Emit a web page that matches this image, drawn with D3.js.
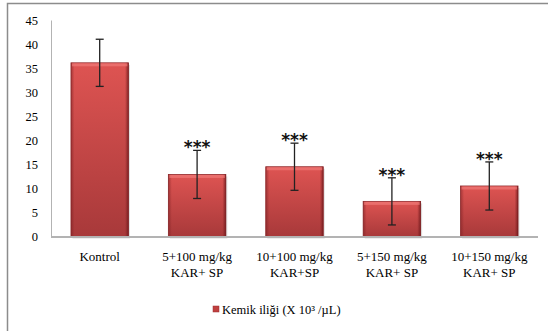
<!DOCTYPE html>
<html>
<head>
<meta charset="utf-8">
<script src="https://cdn.jsdelivr.net/npm/d3@7"></script>
<style>
body { margin: 0; background: #fff; }
</style>
</head>
<body>
<svg id="chart" width="548" height="331"></svg>
<script>
var groups = ["Kontrol", "5+100 mg/kg|KAR+ SP", "10+100 mg/kg|KAR+SP", "5+150 mg/kg|KAR+ SP", "10+150 mg/kg|KAR+ SP"];
var means = [36.1, 12.9, 14.5, 7.3, 10.5];
var errs = [4.9, 5.0, 4.9, 4.9, 5.0];
var stars = ["", "***", "***", "***", "***"];
var yTicks = [0, 5, 10, 15, 20, 25, 30, 35, 40, 45];
var seriesName = "Kemik iliği (X 10³ /µL)";

var serif = "'Liberation Serif', 'DejaVu Serif', serif";
var svg = d3.select("#chart");

// outer frame
svg.append("rect")
    .attr("x", 7.5).attr("y", 3.5)
    .attr("width", 560).attr("height", 340)
    .attr("fill", "none").attr("stroke", "#8c8c8c").attr("stroke-width", 1.5);

var plotL = 51, plotR = 538, plotT = 20, plotB = 236.5;

var x = d3.scaleBand().domain(groups).range([plotL, plotR]).paddingInner(0.41).paddingOuter(0.205);
var y = d3.scaleLinear().domain([0, 45]).range([plotB, plotT]);

var defs = svg.append("defs");
var grad = defs.append("linearGradient").attr("id", "barGrad")
    .attr("x1", 0).attr("y1", 0).attr("x2", 0).attr("y2", 1);
grad.append("stop").attr("offset", "0%").attr("stop-color", "#de5452");
grad.append("stop").attr("offset", "100%").attr("stop-color", "#a8393a");

var edge = defs.append("linearGradient").attr("id", "edgeGrad")
    .attr("x1", 0).attr("y1", 0).attr("x2", 1).attr("y2", 0);
edge.append("stop").attr("offset", "0%").attr("stop-color", "#7a1f22").attr("stop-opacity", 0.55);
edge.append("stop").attr("offset", "6%").attr("stop-color", "#7a1f22").attr("stop-opacity", 0);
edge.append("stop").attr("offset", "94%").attr("stop-color", "#7a1f22").attr("stop-opacity", 0);
edge.append("stop").attr("offset", "100%").attr("stop-color", "#6a1518").attr("stop-opacity", 0.8);

// y axis
var yAxis = d3.axisLeft(y).tickValues(yTicks).tickSize(0).tickPadding(13);
var gy = svg.append("g").attr("transform", "translate(" + plotL + ",0)").call(yAxis);
gy.select(".domain").attr("stroke", "#b3b3b3").attr("stroke-width", 1);
gy.selectAll("text").style("font-size", "12.5px").style("font-family", serif).attr("fill", "#000");

// bars
var bars = svg.append("g").selectAll("g").data(groups).enter().append("g");
bars.append("rect")
    .attr("x", function(d) { return x(d) + 1.5; })
    .attr("y", function(d, i) { return y(means[i]) + 2; })
    .attr("width", x.bandwidth())
    .attr("height", function(d, i) { return plotB - y(means[i]); })
    .attr("fill", "#c8c8c8").attr("opacity", 0.6);
bars.append("rect")
    .attr("x", function(d) { return x(d); })
    .attr("y", function(d, i) { return y(means[i]); })
    .attr("width", x.bandwidth())
    .attr("height", function(d, i) { return plotB - y(means[i]); })
    .attr("fill", "url(#barGrad)")
    .attr("stroke", "#8e2a2c").attr("stroke-width", 0.8);
bars.append("rect")
    .attr("x", function(d) { return x(d); })
    .attr("y", function(d, i) { return y(means[i]); })
    .attr("width", x.bandwidth())
    .attr("height", function(d, i) { return plotB - y(means[i]); })
    .attr("fill", "url(#edgeGrad)");
bars.append("rect")
    .attr("x", function(d) { return x(d) + 1; })
    .attr("y", function(d, i) { return y(means[i]) + 0.5; })
    .attr("width", x.bandwidth() - 2)
    .attr("height", 3)
    .attr("fill", "#ef7a78").attr("opacity", 0.7);

// x baseline
svg.append("line")
    .attr("x1", plotL).attr("x2", plotR)
    .attr("y1", plotB + 0.5).attr("y2", plotB + 0.5)
    .attr("stroke", "#b3b3b3").attr("stroke-width", 2);

// error bars
var eb = svg.append("g").selectAll("g").data(groups).enter().append("g")
    .attr("stroke", "#222").attr("stroke-width", 1.3);
eb.append("line")
    .attr("x1", function(d) { return x(d) + x.bandwidth() / 2; })
    .attr("x2", function(d) { return x(d) + x.bandwidth() / 2; })
    .attr("y1", function(d, i) { return y(means[i] + errs[i]); })
    .attr("y2", function(d, i) { return y(means[i] - errs[i]); });
eb.append("line")
    .attr("x1", function(d) { return x(d) + x.bandwidth() / 2 - 4; })
    .attr("x2", function(d) { return x(d) + x.bandwidth() / 2 + 4; })
    .attr("y1", function(d, i) { return y(means[i] + errs[i]); })
    .attr("y2", function(d, i) { return y(means[i] + errs[i]); });
eb.append("line")
    .attr("x1", function(d) { return x(d) + x.bandwidth() / 2 - 4; })
    .attr("x2", function(d) { return x(d) + x.bandwidth() / 2 + 4; })
    .attr("y1", function(d, i) { return y(means[i] - errs[i]); })
    .attr("y2", function(d, i) { return y(means[i] - errs[i]); });

// significance stars
svg.append("g").selectAll("text").data(groups).enter().append("text")
    .attr("x", function(d) { return x(d) + x.bandwidth() / 2; })
    .attr("y", function(d, i) { return y(means[i] + errs[i]) + 3; })
    .attr("text-anchor", "middle")
    .style("font-family", "'DejaVu Sans', sans-serif")
    .style("font-weight", "bold")
    .style("font-size", "17px")
    .attr("fill", "#111")
    .text(function(d, i) { return stars[i]; });

// x labels
var xl = svg.append("g").selectAll("text").data(groups).enter().append("text")
    .attr("text-anchor", "middle")
    .style("font-family", serif)
    .style("font-size", "13px");
xl.each(function(d) {
    var parts = d.split("|");
    var t = d3.select(this);
    parts.forEach(function(p, j) {
        t.append("tspan")
            .attr("x", x(d) + x.bandwidth() / 2)
            .attr("y", 261 + j * 15.5)
            .text(p);
    });
});

// legend
svg.append("rect")
    .attr("x", 213).attr("y", 306)
    .attr("width", 6).attr("height", 6)
    .attr("fill", "#c0403f").attr("stroke", "#9a2e30").attr("stroke-width", 0.5);
svg.append("text")
    .attr("x", 222).attr("y", 313.5)
    .style("font-family", serif)
    .style("font-size", "12.5px")
    .text(seriesName);
</script>
</body>
</html>
